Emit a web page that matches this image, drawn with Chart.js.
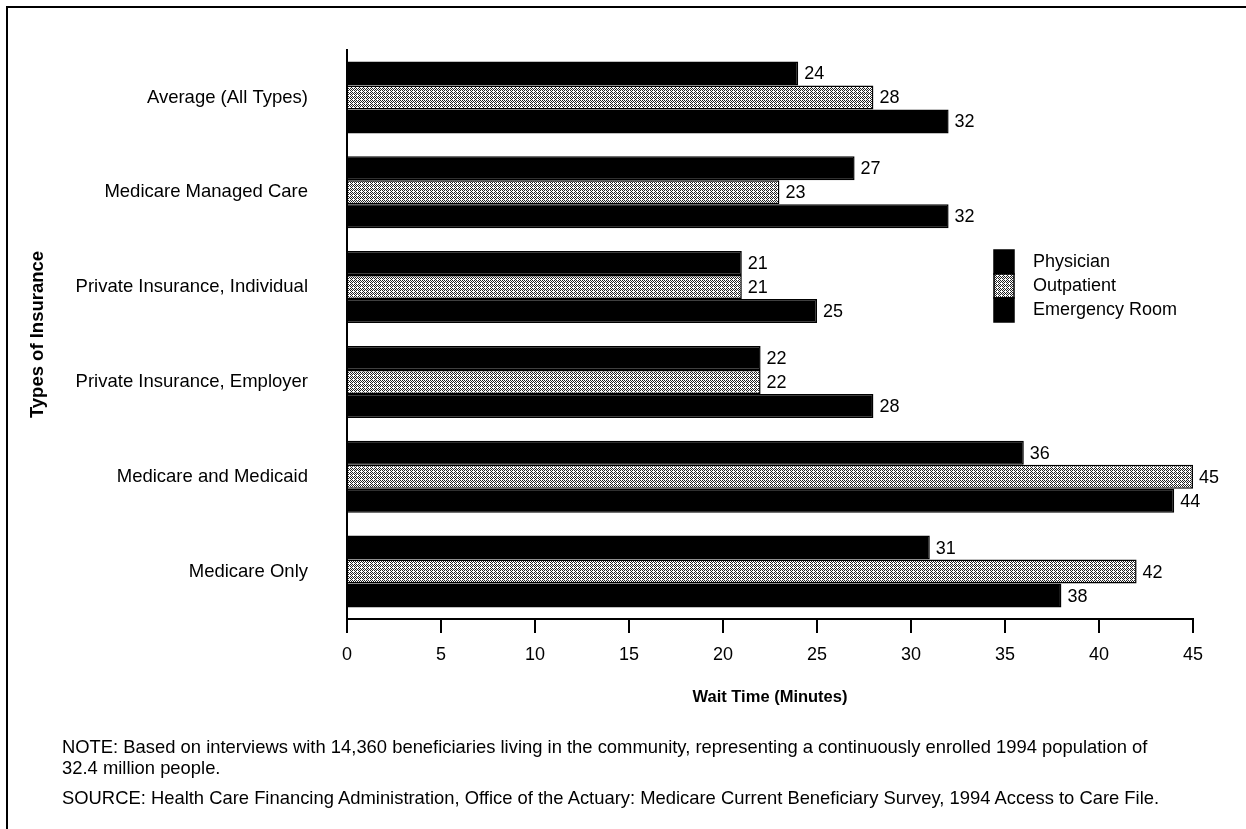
<!DOCTYPE html>
<html>
<head>
<meta charset="utf-8">
<script src="https://cdn.jsdelivr.net/npm/chart.js@4.4.1/dist/chart.umd.min.js"></script>
<style>
  body { margin: 0; background: #fff; }
  #wrap { position: relative; width: 1246px; height: 829px; overflow: hidden; }
  #frame { position: absolute; left: 6px; top: 6px; width: 1250px; height: 840px;
           border-left: 2px solid #000; border-top: 2px solid #000; }
  canvas { position: absolute; left: 0; top: 0; }
  .note { position: absolute; left: 62px; font-family: "Liberation Sans", Arial, sans-serif;
          font-size: 18.4px; color: #000; line-height: 21px; white-space: nowrap; }
</style>
</head>
<body>
<div id="wrap">
  <div id="frame"></div>
  <canvas id="waitChart" width="1246" height="829"></canvas>
  <div class="note" style="top:736px;">NOTE: Based on interviews with 14,360 beneficiaries living in the community, representing a continuously enrolled 1994 population of<br>32.4 million people.</div>
  <div class="note" style="top:787px;">SOURCE: Health Care Financing Administration, Office of the Actuary: Medicare Current Beneficiary Survey, 1994 Access to Care File.</div>
</div>
<script>
const insuranceTypes = ['Average (All Types)', 'Medicare Managed Care', 'Private Insurance, Individual',
                        'Private Insurance, Employer', 'Medicare and Medicaid', 'Medicare Only'];
const physician = [24, 27, 21, 22, 36, 31];
const outpatient = [28, 23, 21, 22, 45, 42];
const emergencyRoom = [32, 32, 25, 28, 44, 38];
const xTicks = [0, 5, 10, 15, 20, 25, 30, 35, 40, 45];

const FONT = '"Liberation Sans", Arial, sans-serif';

// stippled fill for the outpatient bars
function makeStipple() {
    const c = document.createElement('canvas');
    c.width = 4; c.height = 4;
    const g = c.getContext('2d');
    g.fillStyle = '#fff';
    g.fillRect(0, 0, 4, 4);
    const dots = [[0, 0], [2, 0], [1, 1], [3, 1], [0, 2], [2, 2], [3, 3]];
    g.fillStyle = '#222';
    dots.forEach(d => g.fillRect(d[0], d[1], 1, 1));
    return g.createPattern(c, 'repeat');
}

const ctx = document.getElementById('waitChart').getContext('2d');
const stipple = makeStipple();

// value labels at the end of each bar
const valueLabels = {
    id: 'valueLabels',
    afterDatasetsDraw(chart) {
        const c = chart.ctx;
        c.save();
        c.font = '18px ' + FONT;
        c.fillStyle = '#000';
        c.textAlign = 'left';
        c.textBaseline = 'middle';
        chart.data.datasets.forEach((ds, i) => {
            chart.getDatasetMeta(i).data.forEach((bar, j) => {
                c.fillText(ds.data[j], bar.x + 6, bar.y + 1);
            });
        });
        c.restore();
    }
};

// stacked legend boxes like the original
const stackLegend = {
    id: 'stackLegend',
    afterDraw(chart) {
        const c = chart.ctx;
        const x = 994, top = 250, h = 24;
        c.save();
        c.font = '18px ' + FONT;
        c.textBaseline = 'middle';
        chart.data.datasets.forEach((ds, i) => {
            const y = top + i * h;
            c.fillStyle = ds.backgroundColor;
            c.fillRect(x, y, 20, h);
            c.strokeStyle = '#000';
            c.lineWidth = 1.5;
            c.strokeRect(x, y, 20, h);
            c.fillStyle = '#000';
            c.fillText(ds.label, x + 39, y + h / 2);
        });
        c.restore();
    }
};

const chart = new Chart(ctx, {
    type: 'bar',
    data: {
        labels: insuranceTypes,
        datasets: [
            { label: 'Physician', data: physician, backgroundColor: '#000', borderColor: '#000', borderWidth: 1.5 },
            { label: 'Outpatient', data: outpatient, backgroundColor: stipple, borderColor: '#000', borderWidth: 1.5 },
            { label: 'Emergency Room', data: emergencyRoom, backgroundColor: '#000', borderColor: '#000', borderWidth: 1.5 }
        ]
    },
    options: {
        indexAxis: 'y',
        responsive: false,
        animation: false,
        layout: { padding: { left: 0, top: 50, right: 53, bottom: 122 } },
        datasets: { bar: { categoryPercentage: 0.76, barPercentage: 1.0 } },
        plugins: {
            legend: { display: false },
            tooltip: { enabled: false }
        },
        scales: {
            x: {
                min: 0,
                max: 45,
                afterBuildTicks: scale => { scale.ticks = xTicks.map(v => ({ value: v })); },
                afterFit: scale => { scale.height = 88; },
                ticks: { color: '#000', font: { family: FONT, size: 18 }, padding: 11, maxRotation: 0 },
                grid: { drawOnChartArea: false, drawTicks: true, tickLength: 14, color: '#000', lineWidth: 2 },
                border: { display: true, color: '#000', width: 2 },
                title: {
                    display: true,
                    text: 'Wait Time (Minutes)',
                    color: '#000',
                    font: { family: FONT, size: 16.5, weight: 'bold' },
                    padding: { top: 0, bottom: 0 }
                }
            },
            y: {
                afterFit: scale => { scale.width = 347; },
                ticks: { color: '#000', font: { family: FONT, size: 18.5 }, padding: 31 },
                grid: { display: false },
                border: { display: true, color: '#000', width: 2 },
                title: {
                    display: true,
                    text: 'Types of Insurance',
                    color: '#000',
                    font: { family: FONT, size: 18.5, weight: 'bold' },
                    padding: { top: 27, bottom: 0 }
                }
            }
        }
    },
    plugins: [valueLabels, stackLegend]
});
</script>
</body>
</html>
